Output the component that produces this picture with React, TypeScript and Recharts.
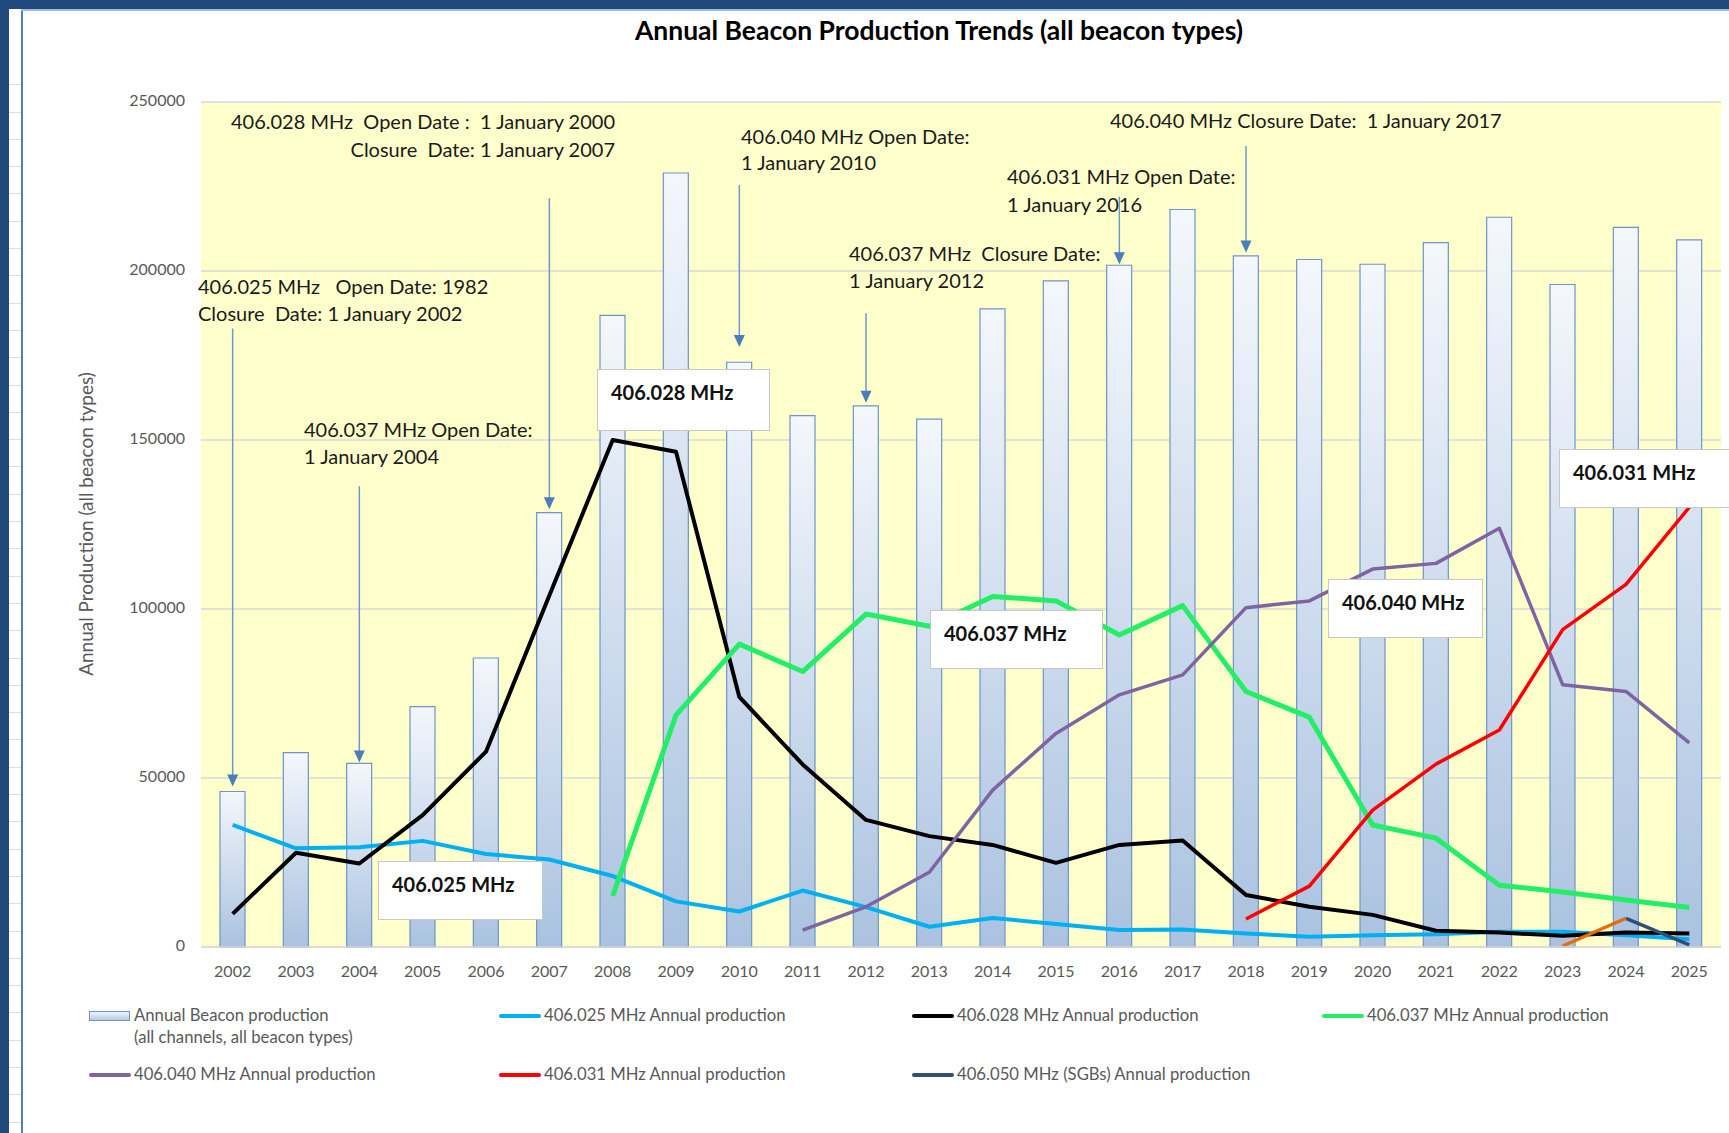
import React from 'react';
import {
  ComposedChart,
  Bar,
  Line,
  XAxis,
  YAxis,
  CartesianGrid,
  ReferenceLine,
  ReferenceDot,
} from 'recharts';

// ---------------- DATA ----------------
const years = [
  '2002', '2003', '2004', '2005', '2006', '2007', '2008', '2009', '2010', '2011', '2012', '2013',
  '2014', '2015', '2016', '2017', '2018', '2019', '2020', '2021', '2022', '2023', '2024', '2025',
];

const annualTotal = [
  46000, 57500, 54300, 71100, 85500, 128500, 186900, 229000, 173000, 157200, 160100, 156200,
  188800, 197100, 201700, 218200, 204500, 203400, 202000, 208400, 215900, 196000, 212900, 209200,
];

const mhz025 = [
  36100, 29200, 29500, 31400, 27500, 25900, 21000, 13500, 10500, 16700, 11800, 6000,
  8600, 6800, 5000, 5200, 4000, 3000, 3500, 3800, 4500, 4500, 3500, 2300,
];

const mhz028 = [
  9800, 27900, 24700, 39000, 57800, 104000, 150000, 146500, 74000, 54000, 37600, 32800,
  30200, 24900, 30200, 31500, 15400, 11900, 9500, 4800, 4300, 3300, 4300, 4000,
];

const mhz037 = [
  null, null, null, null, null, null, 15100, 68600, 89600, 81500, 98500, 94900,
  103700, 102400, 92300, 101000, 75600, 68000, 36100, 32200, 18300, 16300, 13900, 11700,
];

const mhz040 = [
  null, null, null, null, null, null, null, null, null, 5000, 11900, 22100,
  46400, 63200, 74600, 80500, 100400, 102400, 111800, 113500, 123900, 77600, 75600, 60400,
];

const mhz031 = [
  null, null, null, null, null, null, null, null, null, null, null, null,
  null, null, null, null, 8300, 18000, 40500, 54100, 64200, 93900, 107300, 130100,
];

const mhz050 = [
  null, null, null, null, null, null, null, null, null, null, null, null,
  null, null, null, null, null, null, null, null, null, null, 8500, 600,
];

const unlabeled = [
  null, null, null, null, null, null, null, null, null, null, null, null,
  null, null, null, null, null, null, null, null, null, 300, 8500, null,
];

const yTicks = [0, 50000, 100000, 150000, 200000, 250000];

const seriesKeys = ['mhz025', 'mhz028', 'mhz037', 'mhz040', 'mhz031', 'mhz050'];
const seriesNames = [
  '406.025 MHz Annual production',
  '406.028 MHz Annual production',
  '406.037 MHz Annual production',
  '406.040 MHz Annual production',
  '406.031 MHz Annual production',
  '406.050 MHz (SGBs) Annual production',
];
const barName = ['Annual Beacon production', '(all channels, all beacon types)'];

// arrows: year, start value, tip value
const arrowYears = ['2002', '2004', '2007', '2010', '2012', '2016', '2018'];
const arrowFrom = [183000, 136300, 221500, 225400, 187500, 222000, 237000];
const arrowTo = [47500, 54600, 129500, 177500, 161000, 202000, 205500];

const chartData = years.map((year, i) => ({
  year,
  total: annualTotal[i],
  mhz025: mhz025[i],
  mhz028: mhz028[i],
  mhz037: mhz037[i],
  mhz040: mhz040[i],
  mhz031: mhz031[i],
  mhz050: mhz050[i],
  extra: unlabeled[i],
}));

// ---------------- STYLES ----------------
const FONT = 'Lato, "Open Sans", sans-serif';
const seriesColors: Record<string, string> = {
  mhz025: '#00b0f0',
  mhz028: '#000000',
  mhz037: '#22ee66',
  mhz040: '#8064a2',
  mhz031: '#ff0000',
  mhz050: '#2f4f77',
};
const seriesWidths: Record<string, number> = {
  mhz025: 4,
  mhz028: 4,
  mhz037: 5,
  mhz040: 3.5,
  mhz031: 3.5,
  mhz050: 3.5,
};

const W = 1729;
const H = 1133;

const ArrowHead = (props: any) => {
  const { cx, cy } = props;
  if (cx == null || cy == null) return null;
  return <path d={`M${cx - 5.5},${cy - 12} L${cx + 5.5},${cy - 12} L${cx},${cy} Z`} fill="#4a7ebb" />;
};

const annoStyle: React.CSSProperties = {
  position: 'absolute',
  fontFamily: FONT,
  fontSize: 20,
  lineHeight: '20px',
  color: '#1a1a1a',
  whiteSpace: 'pre',
};

const Anno = ({ x, y, text, align }: { x: number; y: number; text: string; align?: 'right' }) => (
  <div
    style={{
      ...annoStyle,
      top: y - 10,
      ...(align === 'right' ? { right: W - x } : { left: x }),
    }}
  >
    {text}
  </div>
);

const Box = ({ l, t, r, b, text }: { l: number; t: number; r: number; b: number; text: string }) => (
  <div
    style={{
      position: 'absolute',
      left: l,
      top: t,
      width: r - l,
      height: b - t,
      background: '#ffffff',
      border: '1px solid #c8c8c8',
      boxSizing: 'border-box',
    }}
  >
    <div
      style={{
        position: 'absolute',
        left: 13,
        top: 11,
        fontFamily: FONT,
        fontWeight: 700,
        fontSize: 20,
        lineHeight: '22px',
        color: '#111',
        whiteSpace: 'pre',
      }}
    >
      {text}
    </div>
  </div>
);

const legendCols = [89, 499, 912, 1322];
const legendRows = [1016, 1075];

const LegendBlock = () => {
  const textStyle: React.CSSProperties = {
    position: 'absolute',
    fontFamily: FONT,
    fontSize: 16.7,
    lineHeight: '18px',
    color: '#595959',
    whiteSpace: 'pre',
  };
  const items = [
    { kind: 'bar' as const },
    ...seriesKeys.map((k, i) => ({ kind: 'line' as const, key: k, name: seriesNames[i] })),
  ];
  return (
    <>
      {items.map((it, idx) => {
        const col = legendCols[idx % 4];
        const rowY = legendRows[Math.floor(idx / 4)];
        if (it.kind === 'bar') {
          return (
            <React.Fragment key="bar">
              <div
                style={{
                  position: 'absolute',
                  left: col,
                  top: rowY - 5,
                  width: 41,
                  height: 10,
                  background: 'linear-gradient(to bottom, #f2f6fb, #b3c8e3)',
                  border: '1px solid #6d95c8',
                  boxSizing: 'border-box',
                }}
              />
              <div style={{ ...textStyle, left: col + 45, top: rowY - 10 }}>{barName[0]}</div>
              <div style={{ ...textStyle, left: col + 45, top: rowY + 12 }}>{barName[1]}</div>
            </React.Fragment>
          );
        }
        return (
          <React.Fragment key={it.key}>
            <div
              style={{
                position: 'absolute',
                left: col,
                top: rowY - 2,
                width: 42,
                height: 4,
                borderRadius: 2,
                background: seriesColors[it.key],
              }}
            />
            <div style={{ ...textStyle, left: col + 45, top: rowY - 10 }}>{it.name}</div>
          </React.Fragment>
        );
      })}
    </>
  );
};

export default function App() {
  return (
    <div style={{ position: 'relative', width: W, height: H, background: '#ffffff', overflow: 'hidden' }}>
      <style>{'body{margin:0;}'}</style>
      {/* spreadsheet frame */}
      <div style={{ position: 'absolute', left: 0, top: 0, width: W, height: 9, background: '#1f497d' }} />
      <div style={{ position: 'absolute', left: 0, top: 0, width: 9, height: H, background: '#1f497d' }} />
      <div
        style={{
          position: 'absolute',
          left: 9,
          top: 58,
          width: 12,
          height: H - 58,
          backgroundImage:
            'repeating-linear-gradient(to bottom, transparent 0px, transparent 26.3px, #dcdcdc 26.3px, #dcdcdc 27.3px)',
        }}
      />
      <div style={{ position: 'absolute', left: 21, top: 9, width: 1.5, height: H - 9, background: '#4f7fc0' }} />
      <div style={{ position: 'absolute', left: 21, top: 9, width: W - 21, height: 1.5, background: '#9dbde6' }} />

      <div style={{ position: 'absolute', left: 0, top: 0 }}>
        <ComposedChart
          width={W}
          height={H}
          data={chartData}
          margin={{ top: 102, right: 8, bottom: 156, left: 0 }}
        >
          <defs>
            <linearGradient id="barGrad" x1="0" y1="0" x2="0" y2="1">
              <stop offset="0%" stopColor="#f4f7fc" />
              <stop offset="100%" stopColor="#aac2e0" />
            </linearGradient>
          </defs>
          <CartesianGrid vertical={false} stroke="#d9d9d9" strokeWidth={1.5} fill="#ffffcc" />
          <XAxis
            dataKey="year"
            height={30}
            interval={0}
            tickLine={false}
            tickSize={0}
            tickMargin={19}
            axisLine={{ stroke: '#d9d9d9', strokeWidth: 1.5 }}
            tick={{ fill: '#595959', fontSize: 16, fontFamily: FONT }}
          />
          <YAxis
            width={201}
            domain={[0, 250000]}
            ticks={yTicks}
            interval={0}
            tickLine={false}
            axisLine={false}
            tickSize={0}
            tickMargin={16}
            tick={{ fill: '#595959', fontSize: 16, fontFamily: FONT, dy: -2 }}
          />
          <Bar
            dataKey="total"
            barSize={25}
            fill="url(#barGrad)"
            stroke="#6d95c8"
            strokeWidth={1.2}
            isAnimationActive={false}
          />
          {seriesKeys.map((k) => (
            <Line
              key={k}
              type="linear"
              dataKey={k}
              stroke={seriesColors[k]}
              strokeWidth={seriesWidths[k]}
              dot={false}
              activeDot={false}
              strokeLinejoin="round"
              isAnimationActive={false}
            />
          ))}
          <Line
            type="linear"
            dataKey="extra"
            stroke="#e46c0a"
            strokeWidth={3.5}
            dot={false}
            activeDot={false}
            legendType="none"
            isAnimationActive={false}
          />
          {arrowYears.map((yr, i) => (
            <ReferenceLine
              key={'al' + i}
              segment={[
                { x: yr, y: arrowFrom[i] },
                { x: yr, y: arrowTo[i] + 3000 },
              ]}
              stroke="#6f97cc"
              strokeWidth={1.5}
            />
          ))}
          {arrowYears.map((yr, i) => (
            <ReferenceDot key={'ah' + i} x={yr} y={arrowTo[i]} r={1} shape={ArrowHead} />
          ))}
        </ComposedChart>
      </div>

      {/* title */}
      <div
        style={{
          position: 'absolute',
          left: 939,
          top: 30,
          transform: 'translate(-50%, -50%)',
          fontFamily: FONT,
          fontWeight: 700,
          fontSize: 26.5,
          color: '#000',
          whiteSpace: 'nowrap',
        }}
      >
        Annual Beacon Production Trends (all beacon types)
      </div>

      {/* y axis title */}
      <div
        style={{
          position: 'absolute',
          left: 85,
          top: 524,
          transform: 'translate(-50%, -50%) rotate(-90deg)',
          fontFamily: FONT,
          fontSize: 19,
          color: '#595959',
          whiteSpace: 'nowrap',
        }}
      >
        Annual Production (all beacon types)
      </div>

      {/* annotations */}
      <Anno x={615} y={121} align="right" text={'406.028 MHz  Open Date :  1 January 2000'} />
      <Anno x={615} y={149} align="right" text={'Closure  Date: 1 January 2007'} />
      <Anno x={198} y={286} text={'406.025 MHz   Open Date: 1982'} />
      <Anno x={198} y={313} text={'Closure  Date: 1 January 2002'} />
      <Anno x={304} y={429} text={'406.037 MHz Open Date:'} />
      <Anno x={304} y={456} text={'1 January 2004'} />
      <Anno x={741} y={136} text={'406.040 MHz Open Date:'} />
      <Anno x={741} y={162} text={'1 January 2010'} />
      <Anno x={849} y={253} text={'406.037 MHz  Closure Date:'} />
      <Anno x={849} y={280} text={'1 January 2012'} />
      <Anno x={1007} y={176} text={'406.031 MHz Open Date:'} />
      <Anno x={1007} y={204} text={'1 January 2016'} />
      <Anno x={1110} y={120} text={'406.040 MHz Closure Date:  1 January 2017'} />

      {/* series label boxes */}
      <Box l={597} t={369} r={770} b={431} text="406.028 MHz" />
      <Box l={378} t={861} r={543} b={920} text="406.025 MHz" />
      <Box l={930} t={610} r={1103} b={669} text="406.037 MHz" />
      <Box l={1328} t={579} r={1483} b={638} text="406.040 MHz" />
      <Box l={1559} t={449} r={1735} b={508} text="406.031 MHz" />

      <LegendBlock />
    </div>
  );
}
